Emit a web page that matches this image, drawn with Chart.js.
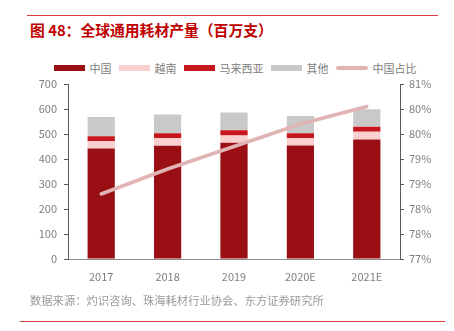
<!DOCTYPE html>
<html>
<head>
<meta charset="utf-8">
<script src="https://cdn.jsdelivr.net/npm/chart.js@4"></script>
<style>
  html, body { margin: 0; padding: 0; background: #fff; }
  body { width: 454px; height: 331px; position: relative; overflow: hidden;
         font-family: "Noto Sans CJK SC", "Noto Sans", sans-serif; }
  .rule { position: absolute; height: 1px; background: #d9383a; }
  #title { position: absolute; left: 30px; top: 19px; font-size: 14.8px; font-weight: bold;
           color: #c00000; white-space: nowrap; }
  #legend { position: absolute; left: 0; width: 470px; top: 60px; display: flex;
            justify-content: center; gap: 7px; font-size: 11px; color: #808080; }
  #legend .item { display: flex; align-items: center; gap: 5px; white-space: nowrap; }
  #legend .sw { width: 31px; height: 6px; }
  #source { position: absolute; left: 30px; top: 292px; font-size: 11.3px; color: #999; white-space: nowrap; }
  #wrap { position: absolute; left: 0; top: 0; width: 454px; height: 331px; }
</style>
</head>
<body>
<div class="rule" style="left:27px; width:411px; top:15px;"></div>
<div id="title">图 48：全球通用耗材产量（百万支）</div>
<div id="legend"></div>
<div id="wrap"><canvas id="myChart"></canvas></div>
<div id="source">数据来源：灼识咨询、珠海耗材行业协会、东方证券研究所</div>
<div class="rule" style="left:20px; width:425px; top:321px;"></div>

<script>
// datos
const years = ['2017', '2018', '2019', '2020E', '2021E']
const china = [442, 453, 465, 454, 478]
const vietnam = [29, 30, 29, 29, 31]
const malaysia = [20, 20, 21, 20, 20]
const others = [77, 75, 71, 69, 70]
const chinaShare = [78.3, 78.8, 79.25, 79.7, 80.05]   // %

const leftTicks = { min: 0, max: 700, step: 100 }
const rightTicks = { min: 77, max: 80.5, step: 0.5 }

const colors = {
    china: '#990f14',
    vietnam: '#f8d0d0',
    malaysia: '#c8161d',
    others: '#c9c9c9',
    share: '#e2b3b3'
}

const datasets = [
    { label: '中国', data: china, backgroundColor: colors.china, stack: 's', order: 1, yAxisID: 'y' },
    { label: '越南', data: vietnam, backgroundColor: colors.vietnam, stack: 's', order: 1, yAxisID: 'y' },
    { label: '马来西亚', data: malaysia, backgroundColor: colors.malaysia, stack: 's', order: 1, yAxisID: 'y' },
    { label: '其他', data: others, backgroundColor: colors.others, stack: 's', order: 1, yAxisID: 'y' },
    {
        type: 'line', label: '中国占比', data: chinaShare, borderColor: colors.share,
        backgroundColor: colors.share, borderWidth: 3.5, borderCapStyle: 'round',
        pointRadius: 0, tension: 0, order: 0, yAxisID: 'y1'
    }
]

// Leyenda en HTML
const legend = document.getElementById('legend')
datasets.forEach(ds => {
    const item = document.createElement('div')
    item.className = 'item'
    const sw = document.createElement('span')
    sw.className = 'sw'
    sw.style.background = ds.backgroundColor
    if (ds.type === 'line') {
        sw.style.height = '3.5px'
        sw.style.borderRadius = '2px'
        sw.style.width = '32px'
    }
    const txt = document.createElement('span')
    txt.textContent = ds.label
    item.appendChild(sw)
    item.appendChild(txt)
    legend.appendChild(item)
})

const tickFont = { family: '"Noto Sans CJK SC", "Noto Sans", sans-serif', size: 11 }

const ctx = document.getElementById('myChart').getContext('2d')
const myChart = new Chart(ctx, {
    type: 'bar',
    data: { labels: years, datasets: datasets },
    options: {
        responsive: true,
        maintainAspectRatio: false,
        animation: false,
        layout: { padding: { top: 84, left: 0, right: 0, bottom: 0 } },
        plugins: { legend: { display: false }, tooltip: { enabled: false } },
        datasets: { bar: { barPercentage: 1, categoryPercentage: 0.41 } },
        scales: {
            x: {
                stacked: true,
                grid: { display: false },
                border: { display: true, color: '#8c8c8c', width: 1 },
                ticks: { color: '#7f7f7f', font: tickFont, padding: 3 },
                afterFit: s => { s.height = 72 }
            },
            y: {
                stacked: true,
                position: 'left',
                min: leftTicks.min, max: leftTicks.max,
                grid: { drawOnChartArea: false, drawTicks: true, tickLength: 4, color: '#595959' },
                border: { display: true, color: '#595959', width: 1 },
                ticks: { stepSize: leftTicks.step, color: '#7f7f7f', font: tickFont, padding: 7 },
                afterFit: s => { s.width = 68 }
            },
            y1: {
                position: 'right',
                min: rightTicks.min, max: rightTicks.max,
                grid: { drawOnChartArea: false, drawTicks: true, tickLength: 4, color: '#595959' },
                border: { display: true, color: '#595959', width: 1 },
                ticks: {
                    stepSize: rightTicks.step, color: '#7f7f7f', font: tickFont, padding: 5,
                    callback: v => Math.round(v) + '%'
                },
                afterFit: s => { s.width = 54 }
            }
        }
    }
})
</script>
</body>
</html>
